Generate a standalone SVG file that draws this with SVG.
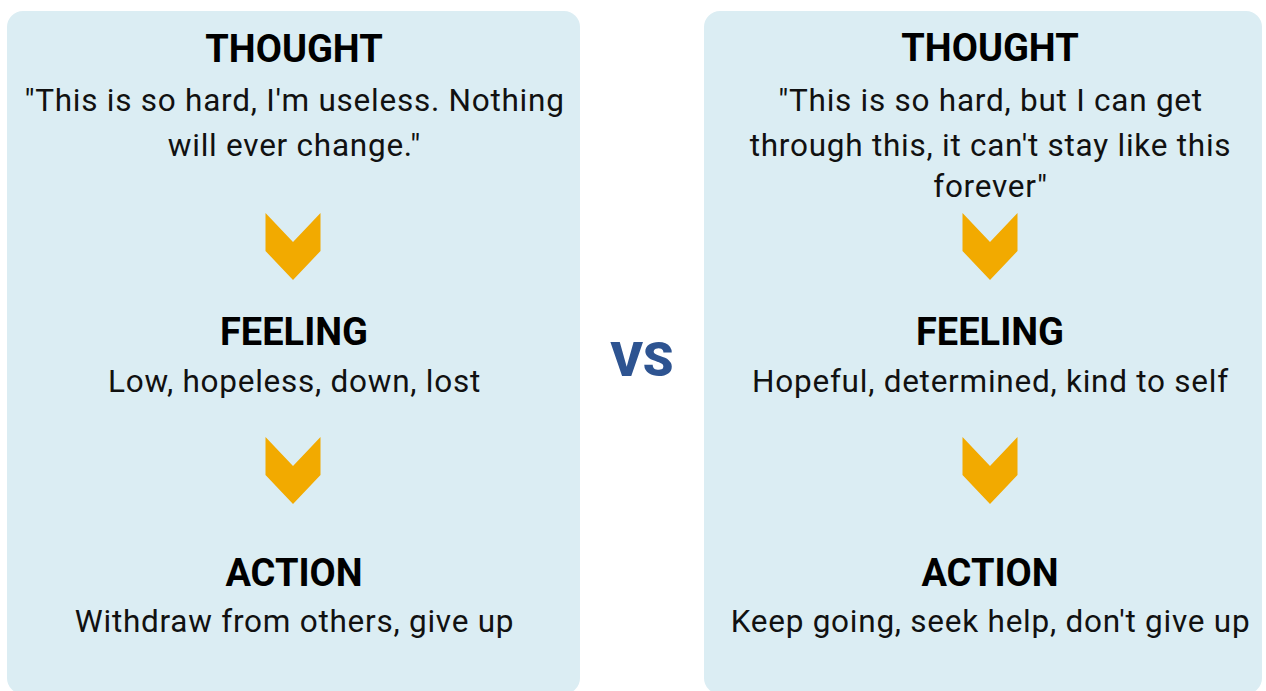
<svg xmlns="http://www.w3.org/2000/svg" width="1266" height="691" viewBox="0 0 1266 691">
<style>
.panel{fill:#DBEDF3}
.h{font-family:Roboto,"Liberation Sans",sans-serif;font-weight:700;font-size:38px;fill:#000;text-anchor:middle}
.t{font-family:Roboto,"Liberation Sans",sans-serif;font-weight:400;font-size:31.5px;letter-spacing:0.75px;fill:#111;text-anchor:middle}
.chev{fill:#F2AA00}
.vs{font-family:Roboto,"Liberation Sans",sans-serif;font-weight:900;font-size:49px;fill:#2E5491;text-anchor:middle}
</style>
<defs>
<path id="chevron" d="M-27.5 0 L0 29 L27.5 0 L27.5 38 L0 67 L-27.5 38 Z"/>
</defs>
<rect width="1266" height="691" fill="#fff"/>
<g id="left-panel">
<rect class="panel" x="7" y="11" width="573" height="683" rx="16"/>
<g id="left-thought">
<text class="h" x="294" y="62">THOUGHT</text>
<text class="t" x="294.5" y="111">"This is so hard, I'm useless. Nothing</text>
<text class="t" x="294.5" y="156">will ever change."</text>
</g>
<g id="left-feeling">
<text class="h" x="294" y="345">FEELING</text>
<text class="t" x="294.5" y="392">Low, hopeless, down, lost</text>
</g>
<g id="left-action">
<text class="h" x="294" y="586">ACTION</text>
<text class="t" x="294.5" y="632">Withdraw from others, give up</text>
</g>
</g>
<g id="right-panel">
<rect class="panel" x="704" y="11" width="558" height="683" rx="16"/>
<g id="right-thought">
<text class="h" x="990" y="61">THOUGHT</text>
<text class="t" x="990.5" y="111">"This is so hard, but I can get</text>
<text class="t" x="990.5" y="156">through this, it can't stay like this</text>
<text class="t" x="990.5" y="197">forever"</text>
</g>
<g id="right-feeling">
<text class="h" x="990" y="345">FEELING</text>
<text class="t" x="990.5" y="392">Hopeful, determined, kind to self</text>
</g>
<g id="right-action">
<text class="h" x="990" y="586">ACTION</text>
<text class="t" x="990.5" y="632">Keep going, seek help, don't give up</text>
</g>
</g>
<g id="vs">
<text class="vs" x="642" y="376">VS</text>
</g>
<g id="connectors">
<use href="#chevron" class="chev" x="293" y="213"/>
<use href="#chevron" class="chev" x="293" y="437"/>
<use href="#chevron" class="chev" x="990" y="213"/>
<use href="#chevron" class="chev" x="990" y="437"/>
</g>
</svg>
